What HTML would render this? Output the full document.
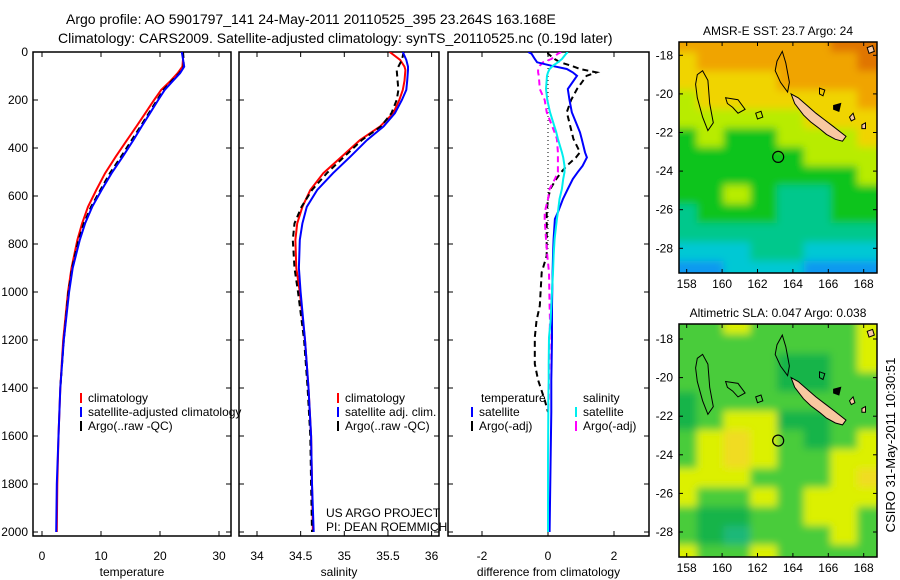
<!DOCTYPE html>
<html><head><meta charset="utf-8"><style>
body{margin:0;background:#fff}
svg{display:block;font-family:"Liberation Sans",sans-serif}
</style></head><body>
<svg id="svg" width="900" height="580" viewBox="0 0 900 580" xmlns="http://www.w3.org/2000/svg">
<defs>
<clipPath id="c1"><rect x="33" y="52" width="198" height="484"/></clipPath>
<clipPath id="c2"><rect x="239" y="52" width="200" height="484"/></clipPath>
<clipPath id="c3"><rect x="448" y="52" width="201" height="484"/></clipPath>
<clipPath id="cm1"><rect x="679" y="42" width="198" height="231"/></clipPath>
<clipPath id="cm2"><rect x="679" y="324" width="198" height="233"/></clipPath>
<filter id="bl" x="-5%" y="-5%" width="110%" height="110%"><feGaussianBlur stdDeviation="4"/></filter>
</defs>
<g font-size="14">
<text x="66" y="24">Argo profile: AO 5901797_141 24-May-2011 20110525_395 23.264S 163.168E</text>
<text x="58" y="43">Climatology: CARS2009. Satellite-adjusted climatology: synTS_20110525.nc (0.19d later)</text>
</g>
<g id="layer"></g>
<text font-size="13" transform="translate(895,445) rotate(-90)" text-anchor="middle">CSIRO 31-May-2011 10:30:51</text>
</svg>
<script>
// ---- profile data ----
const tDepth=[0,30,61,88,120,158,200,255,310,367,436,505,575,645,714,783,900,1000,1200,1400,1600,1800,2000];
const tClim=[23.9,23.9,23.8,23.0,21.8,20.2,19.0,17.5,16.0,14.4,12.5,10.7,9.2,7.8,6.8,6.0,5.0,4.4,3.6,3.1,2.8,2.6,2.5];
const tSat=[23.7,23.9,24.1,23.4,22.2,20.8,19.7,18.3,16.9,15.5,13.7,11.8,10.1,8.5,7.3,6.4,5.2,4.6,3.7,3.1,2.8,2.5,2.4];
const tArgo=[23.9,24.0,24.0,23.3,22.0,20.6,19.5,18.1,16.7,15.2,13.4,11.5,9.9,8.3,7.1,6.2,5.1,4.5,3.7,3.1];
const sDepth=[0,33,61,75,120,158,200,255,310,367,436,505,575,645,714,783,900,1000,1200,1400,1600,1800,2000];
const sClim=[35.52,35.64,35.69,35.70,35.69,35.67,35.63,35.56,35.41,35.18,34.97,34.76,34.61,34.52,34.46,34.44,34.45,34.49,34.55,34.59,34.62,34.63,34.64];
const sSat=[35.67,35.71,35.73,35.73,35.72,35.71,35.66,35.58,35.45,35.26,35.07,34.87,34.69,34.57,34.52,34.49,34.48,34.5,34.55,34.59,34.62,34.63,34.65];
const sArgo=[35.68,35.66,35.62,35.60,35.61,35.62,35.60,35.54,35.42,35.2,35.0,34.8,34.63,34.51,34.43,34.41,34.43,34.47,34.54,34.58,34.61,34.62,34.63];
const dDepth=[0,7,29,43,57,71,85,99,154,200,251,335,362,418,439,474,501,529,571,613,668,696,779,849,918,1057,1120,1189,1300,1367,1450,1500,1700,2000];
const dSatT=[-0.6,-0.5,-0.4,-0.33,0.1,0.57,0.75,0.88,0.6,0.65,0.72,0.97,1.02,1.12,1.18,1.05,0.9,0.75,0.6,0.45,0.3,0.21,0.17,0.15,0.14,0.12,0.12,0.12,0.11,0.1,0.1,0.1,0.08,0.05];
const dArgoT=[0,0,0.2,0.37,0.7,0.97,1.47,1.17,0.88,0.7,0.57,0.72,0.77,0.97,0.85,0.57,0.4,0.25,0.07,0.0,-0.04,-0.04,-0.04,-0.04,-0.19,-0.25,-0.35,-0.4,-0.4,-0.3,-0.1,0];
const dSatS=[0.6,0.55,0.42,0.3,0.15,0.05,0,-0.03,-0.06,-0.02,0.06,0.25,0.3,0.42,0.46,0.5,0.5,0.46,0.42,0.35,0.3,0.27,0.2,0.17,0.15,0.1,0.08,0.03,0.02,0.02,0.01,0.01,0,0];
const dArgoS=[0.4,0.3,0.1,-0.15,-0.25,-0.3,-0.3,-0.28,-0.25,-0.1,-0.04,0.2,0.27,0.3,0.3,0.3,0.3,0.21,0.05,0.0,-0.1,-0.1,-0.06,-0.02,0.03,0.05,0.06,0.05,0.04,0.03,0.02,0];
const depthTicks=[0,200,400,600,800,1000,1200,1400,1600,1800,2000];
const tTicks=[0,10,20,30];
const sTicks=[34,34.5,35,35.5,36];
const dTicks=[-2,0,2];
// ---- map data (colour grid rows) ----
const sstRows=["OOOOOODD","YOOOOOOD","YYYYOOOO","LYYYYYYO","LLLLLYYY","GLGGLLLY","GGGGGLLL","GGGGGGGL","GGLGTTGG","TGGGTTGG","TTTTTTTT","CCCTTCCC","BBCCCBBB"];
const slaRows=["GGYGGGGY","GGGGGGGY","GGGGDDGY","GGGGDDGG","DGGGGGGG","DGYYDDGG","GYOYGDGY","GYOYGGYY","YYYGGGYO","YGGYGYYY","GDDGGYYG","GDTGGGYG","YGGYGGGG"];
const pal={O:"#f0a400",D:"#e07400",Y:"#f0d400",L:"#b8ec00",G:"#10c41c",T:"#00c88c",C:"#00c8d4",B:"#0a98f0"};
const pal2={G:"#48cc3a",D:"#14b44a",Y:"#dcf000",O:"#f0dc20",T:"#1cb878"};
const latTicks=[18,20,22,24,26,28];
const lonTicks=[158,160,162,164,166,168];
const ncLon=[163.9,164.3,164.8,165.3,165.8,166.3,167.0,166.8,166.4,165.9,165.5,165.0,164.6,164.1];
const ncLat=[20.0,20.2,20.6,21.0,21.35,21.7,22.2,22.45,22.35,22.1,21.8,21.45,21.1,20.5];
const argoLon=163.168, argoLat=23.264;

const NS="http://www.w3.org/2000/svg";
const L=document.getElementById('layer');
function mk(t,a,p){const e=document.createElementNS(NS,t);for(const k in a)e.setAttribute(k,a[k]);(p||L).appendChild(e);return e;}
const yD=d=>52+0.24*d;
const xT=v=>42+5.9*v, xS=v=>257+87.3*(v-34), xDf=v=>548+33*v;

function panel(name,x0,x1,xf,ticks,lab,clip,showY){
  const g=mk('g',{});
  
  
  const r=mk('rect',{x:x0,y:52,width:x1-x0,height:484,fill:'none',stroke:'#000','stroke-width':1.5},g);
  
  
  depthTicks.forEach(d=>{
    mk('line',{x1:x0,x2:x0+5,y1:yD(d),y2:yD(d),stroke:'#000'},g);
    mk('line',{x1:x1-5,x2:x1,y1:yD(d),y2:yD(d),stroke:'#000'},g);
    if(showY){const t=mk('text',{x:28,y:yD(d)+4,'text-anchor':'end','font-size':12},g);t.textContent=d;
      
      }
  });
  ticks.forEach(v=>{
    const x=xf(v);
    mk('line',{x1:x,x2:x,y1:52,y2:57,stroke:'#000'},g);
    mk('line',{x1:x,x2:x,y1:531,y2:536,stroke:'#000'},g);
    const t=mk('text',{x:x,y:560,'text-anchor':'middle','font-size':12},g);t.textContent=v;
    
    
  });
  const t=mk('text',{x:(x0+x1)/2,y:576,'text-anchor':'middle','font-size':12},g);t.textContent=lab;
  
  
  return mk('g',{'clip-path':'url(#'+clip+')'},g);
}
function series(g,name,ds,vs,xf,col,dash,w){
  const n=Math.min(ds.length,vs.length);
  const pts=[];for(let i=0;i<n;i++)pts.push(xf(vs[i]).toFixed(1)+','+yD(ds[i]).toFixed(1));
  const p=mk('polyline',{points:pts.join(' '),fill:'none',stroke:col,'stroke-width':w||2,'stroke-dasharray':dash||'none'},g);
  
  
}
function legend(x,y,items){
  items.forEach((it,i)=>{
    const yy=y+i*14;
    const l=mk('line',{x1:x,x2:x,y1:yy-9,y2:yy+1,stroke:it[1],'stroke-width':2});
    
    
    const t=mk('text',{x:x+7,y:yy,'font-size':12});t.textContent=it[0];
    
    
  });
}
// temperature panel
let g=panel('temperature-panel',33,231,xT,tTicks,'temperature','c1',true);
series(g,'temp-climatology',tDepth,tClim,xT,'#f00');
series(g,'temp-argo',tDepth,tArgo,xT,'#000','6,4');
series(g,'temp-satellite',tDepth,tSat,xT,'#00f');
// salinity
g=panel('salinity-panel',239,439,xS,sTicks,'salinity','c2',false);
series(g,'sal-climatology',sDepth,sClim,xS,'#f00');
series(g,'sal-argo',sDepth,sArgo,xS,'#000','6,4');
series(g,'sal-satellite',sDepth,sSat,xS,'#00f');
// difference
g=panel('difference-panel',448,649,xDf,dTicks,'difference from climatology','c3',false);
mk('line',{x1:xDf(0),x2:xDf(0),y1:yD(0),y2:yD(820),stroke:'#000','stroke-dasharray':'1,3'},g);
series(g,'diff-argo-temp',dDepth,dArgoT,xDf,'#000','6,4');
series(g,'diff-argo-sal',dDepth,dArgoS,xDf,'#f0f','6,4');
series(g,'diff-satellite-temp',dDepth,dSatT,xDf,'#00f');
series(g,'diff-satellite-sal',dDepth,dSatS,xDf,'#0ee');
// legends
legend(81,402,[["climatology","#f00"],["satellite-adjusted climatology","#00f"],["Argo(..raw -QC)","#000"]]);
legend(338,402,[["climatology","#f00"],["satellite adj. clim.","#00f"],["Argo(..raw -QC)","#000"]]);
let tt=mk('text',{x:481,y:402,'font-size':12});tt.textContent='temperature';


tt=mk('text',{x:583,y:402,'font-size':12});tt.textContent='salinity';


legend(472,416,[["satellite","#00f"],["Argo(-adj)","#000"]]);
legend(576,416,[["satellite","#0ee"],["Argo(-adj)","#f0f"]]);
tt=mk('text',{x:326,y:517,'font-size':12});tt.textContent='US ARGO PROJECT';


tt=mk('text',{x:326,y:531,'font-size':12});tt.textContent='PI: DEAN ROEMMICH';



// maps
function map(name,top,bot,y18,rows,pl,clip,title){
  const g=mk('g',{});
  
  
  const x0=679,x1=877;
  const xL=lon=>686.7+17.7*(lon-158), yL=lat=>y18+19.3*(lat-18);
  const cg=mk('g',{'clip-path':'url(#'+clip+')'},g);
  const bg=mk('g',{filter:'url(#bl)'},cg);
  const cw=(x1-x0)/8, ch=(bot-top)/rows.length;
  rows.forEach((r,i)=>{for(let j=0;j<8;j++){
    mk('rect',{x:x0-8+j*(cw+16/8)-1,y:top-8+i*(ch+16/rows.length)-1,width:cw+4,height:ch+4,fill:pl[r[j]]},bg);
  }});
  const ol=(pts,fill)=>mk('path',{d:'M'+pts.map(p=>xL(p[0]).toFixed(1)+','+yL(p[1]).toFixed(1)).join('L')+'Z',fill:fill||'none',stroke:'#000','stroke-width':1},cg);
  ol([[158.6,19.0],[158.9,18.8],[159.2,19.3],[159.3,20.5],[159.5,21.5],[159.2,21.9],[158.9,21.2],[158.6,20.2],[158.5,19.5]]);
  ol([[163.1,18.3],[163.4,17.8],[163.6,18.4],[163.8,19.4],[163.7,19.9],[163.3,19.4],[163.0,18.8]]);
  ol([[160.2,20.2],[160.9,20.3],[161.3,20.8],[160.9,21.0],[160.6,20.7],[160.3,20.5]]);
  ol([[161.9,21.0],[162.2,20.9],[162.3,21.2],[162.0,21.3]]);
  ol([[165.5,19.7],[165.8,19.8],[165.7,20.1],[165.5,20.0]]);
  ol([[166.3,20.6],[166.7,20.5],[166.6,20.9],[166.3,20.8]],'#000');
  ol([[167.2,21.2],[167.4,21.0],[167.5,21.3],[167.3,21.4]],'#f8c8a0');
  ol([[167.9,21.6],[168.1,21.5],[168.1,21.8],[167.9,21.8]],'#f8c8a0');
  ol([[168.2,17.6],[168.5,17.5],[168.6,17.8],[168.3,17.9]],'#f8c8a0');
  const nc=[];for(let i=0;i<ncLon.length;i++)nc.push([ncLon[i],ncLat[i]]);
  const isl=ol(nc,'#f8c8a0');
  
  
  const c=mk('circle',{cx:xL(argoLon),cy:yL(argoLat),r:5.5,fill:'none',stroke:'#000','stroke-width':1.2},cg);
  
  
  const fr=mk('rect',{x:x0,y:top,width:x1-x0,height:bot-top,fill:'none',stroke:'#000','stroke-width':1.5},g);
  
  
  latTicks.forEach(la=>{const y=yL(la);
    mk('line',{x1:x0,x2:x0+4,y1:y,y2:y,stroke:'#000'},g);mk('line',{x1:x1-4,x2:x1,y1:y,y2:y,stroke:'#000'},g);
    const t=mk('text',{x:673,y:y+4,'text-anchor':'end','font-size':12},g);t.textContent='-'+la;
    
    });
  lonTicks.forEach(lo=>{const x=xL(lo);
    mk('line',{x1:x,x2:x,y1:top,y2:top+4,stroke:'#000'},g);mk('line',{x1:x,x2:x,y1:bot-4,y2:bot,stroke:'#000'},g);
    const t=mk('text',{x:x,y:bot+15,'text-anchor':'middle','font-size':12},g);t.textContent=lo;
    
    });
  const t=mk('text',{x:778,y:top-7,'text-anchor':'middle','font-size':12},g);t.textContent=title;
  
  
}
map('sst-map',42,273,55.3,sstRows,pal,'cm1','AMSR-E SST: 23.7 Argo: 24');
map('sla-map',324,557,339,slaRows,pal2,'cm2','Altimetric SLA: 0.047 Argo: 0.038');
</script>
</body></html>
